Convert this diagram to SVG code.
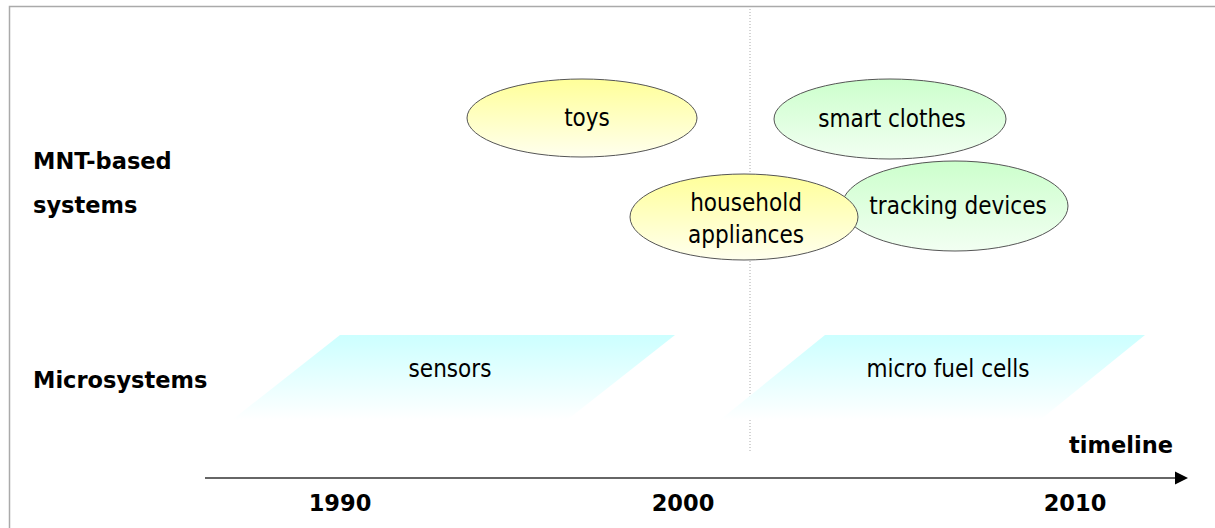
<svg xmlns="http://www.w3.org/2000/svg" width="1215" height="528" viewBox="0 0 1215 528">
<style>
.lbl{font-family:"DejaVu Sans Condensed","DejaVu Sans",sans-serif;font-size:24px;fill:#000;text-anchor:middle}
.bold{font-family:"DejaVu Sans","Liberation Sans",sans-serif;font-weight:bold;font-size:22.5px;fill:#000}
.ell{stroke:#555;stroke-width:1}
.yel{fill:url(#gy)}
.grn{fill:url(#gg)}
</style>
<defs>
<linearGradient id="gy" x1="0" y1="0" x2="0" y2="1">
<stop offset="0" stop-color="#ffff99"/>
<stop offset="1" stop-color="#ffffee"/>
</linearGradient>
<linearGradient id="gg" x1="0" y1="0" x2="0" y2="1">
<stop offset="0" stop-color="#ccffcc"/>
<stop offset="1" stop-color="#f2fff2"/>
</linearGradient>
<linearGradient id="gc" x1="0" y1="0" x2="0" y2="1">
<stop offset="0" stop-color="#ccffff"/>
<stop offset="1" stop-color="#ffffff"/>
</linearGradient>
</defs>
<rect width="1215" height="528" fill="#fff"/>
<path d="M9.5 528 V6.5 H1215" fill="none" stroke="#aaa" stroke-width="1.5"/>
<line x1="750" y1="6" x2="750" y2="453" stroke="#aaa" stroke-width="1" stroke-dasharray="1 2"/>

<g id="row-labels">
<text class="bold" x="33" y="169">MNT-based</text>
<text class="bold" x="33" y="213">systems</text>
<text class="bold" x="33" y="388">Microsystems</text>
</g>

<g id="sensors">
<polygon points="340,335 675,335 567,420 232,420" fill="url(#gc)"/>
<text class="lbl" x="450" y="377">sensors</text>
</g>
<g id="micro-fuel-cells">
<polygon points="825,335 1145,335 1040,420 720,420" fill="url(#gc)"/>
<text class="lbl" x="948" y="377">micro fuel cells</text>
</g>

<g id="tracking-devices">
<ellipse class="ell grn" cx="955" cy="206" rx="113" ry="45"/>
<text class="lbl" x="958" y="214">tracking devices</text>
</g>
<g id="smart-clothes">
<ellipse class="ell grn" cx="890" cy="119" rx="116" ry="40"/>
<text class="lbl" x="892" y="127">smart clothes</text>
</g>
<g id="toys">
<ellipse class="ell yel" cx="582" cy="118" rx="115" ry="39"/>
<text class="lbl" x="587" y="126">toys</text>
</g>
<g id="household-appliances">
<ellipse class="ell yel" cx="744" cy="217" rx="114" ry="43"/>
<text class="lbl" x="746" y="211">household</text>
<text class="lbl" x="746" y="243">appliances</text>
</g>

<g id="connectors">
<line x1="205" y1="478" x2="1177" y2="478" stroke="#666" stroke-width="2"/>
<polygon points="1175,471.5 1188,478 1175,484.5" fill="#000"/>
</g>

<g id="timeline-labels">
<text class="bold" x="1173" y="453" text-anchor="end">timeline</text>
<text class="bold" x="340" y="511" text-anchor="middle">1990</text>
<text class="bold" x="683" y="511" text-anchor="middle">2000</text>
<text class="bold" x="1075" y="511" text-anchor="middle">2010</text>
</g>
</svg>
